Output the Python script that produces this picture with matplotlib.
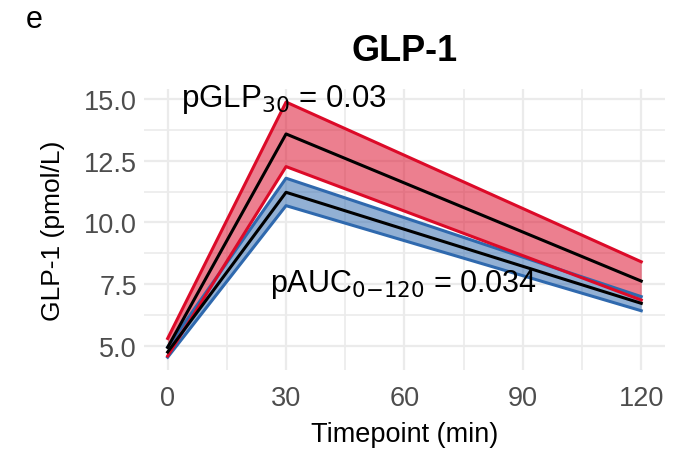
import numpy as np
import matplotlib.pyplot as plt
from matplotlib.ticker import MultipleLocator

plt.rcParams['font.family'] = ['Liberation Sans', 'DejaVu Sans']

timepoints = [0, 30, 120]
red_mean = [4.95, 13.58, 7.63]
red_lo = [4.60, 12.26, 6.86]
red_hi = [5.31, 14.87, 8.41]
blue_mean = [4.76, 11.22, 6.73]
blue_lo = [4.55, 10.68, 6.43]
blue_hi = [4.96, 11.79, 7.00]

RED = '#DC0A28'
BLUE = '#2F69AE'

fig = plt.figure(figsize=(6.82, 4.52), dpi=100)
ax = fig.add_axes([0.2111, 0.179, 0.7639, 0.622])

# grid (theme_minimal style)
ax.xaxis.set_major_locator(MultipleLocator(30))
ax.xaxis.set_minor_locator(MultipleLocator(15))
ax.yaxis.set_major_locator(MultipleLocator(2.5))
ax.yaxis.set_minor_locator(MultipleLocator(1.25))
ax.grid(True, which='major', color='#EBEBEB', lw=1.6)
ax.grid(True, which='minor', color='#EBEBEB', lw=1.2)
ax.set_axisbelow(True)
for s in ax.spines.values():
    s.set_visible(False)
ax.tick_params(which='both', length=0, labelsize=19.5, labelcolor='#4D4D4D')
ax.tick_params(axis='x', pad=11)
ax.tick_params(axis='y', pad=5)

# ribbons
ax.fill_between(timepoints, blue_lo, blue_hi, color=BLUE, alpha=0.52, lw=0)
ax.plot(timepoints, blue_lo, color=BLUE, lw=2.2)
ax.plot(timepoints, blue_hi, color=BLUE, lw=2.2)
ax.fill_between(timepoints, red_lo, red_hi, color=RED, alpha=0.52, lw=0)
ax.plot(timepoints, red_lo, color=RED, lw=2.2)
ax.plot(timepoints, red_hi, color=RED, lw=2.2)
ax.plot(timepoints, blue_mean, color='black', lw=2.2)
ax.plot(timepoints, red_mean, color='black', lw=2.2)

ax.set_xlim(-6, 126)
ax.set_ylim(4.03, 15.4)
ax.yaxis.set_major_formatter(plt.FuncFormatter(lambda v, p: f"{v:.1f}"))

ax.set_xlabel('Timepoint (min)', fontsize=19.5, labelpad=7)
ax.set_ylabel('GLP-1 (pmol/L)', fontsize=19, labelpad=14)
ax.set_title('GLP-1', fontsize=26, fontweight='bold', pad=21)

ax.text(3.3, 15.0, r'pGLP$_{30}$ = 0.03', fontsize=22.5, ha='left', va='center')
ax.text(26, 7.55, r'pAUC$_{0\mathrm{-}120}$ = 0.034', fontsize=22, ha='left', va='center')

fig.text(0.05, 0.955, 'e', fontsize=22, ha='center', va='center')

fig.savefig('out.png', dpi=100)
